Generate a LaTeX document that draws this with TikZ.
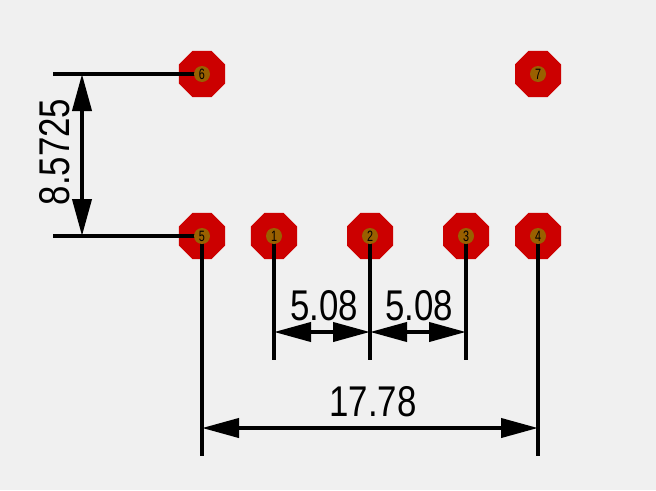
\documentclass[tikz,border=0pt]{standalone}
\usepackage{fontspec}
\usetikzlibrary{shapes.geometric,arrows.meta}
\newfontfamily\dimfont[FakeStretch=0.81]{Liberation Sans}
\newfontfamily\pinfont[FakeStretch=0.72]{Liberation Sans}
\definecolor{backgr}{HTML}{F0F0F0}
\definecolor{padred}{HTML}{CC0000}
\definecolor{holebrown}{HTML}{996000}
\tikzset{
  pad/.style={regular polygon, regular polygon sides=8, fill=padred, minimum size=49.8pt, inner sep=0pt, outer sep=0pt},
  hole/.style={circle, fill=holebrown, minimum size=16pt, inner sep=0pt, outer sep=0pt, font=\pinfont\fontsize{15}{15}\selectfont},
  extline/.style={black, line width=4pt},
  dimline/.style={black, line width=4pt, {Triangle[length=37pt,width=19pt]}-{Triangle[length=37pt,width=19pt]}},
  dimtext/.style={inner sep=0pt, font=\dimfont\fontsize{43}{43}\selectfont}
}

\begin{document}
\begin{tikzpicture}[x=1pt,y=-1pt]
  \fill[backgr] (0,0) rectangle (656,490);

  \node[pad] (p1) at (274,236) {};
  \node[pad] (p2) at (370,236) {};
  \node[pad] (p3) at (466,236) {};
  \node[pad] (p4) at (538,236) {};
  \node[pad] (p5) at (202,236) {};
  \node[pad] (p6) at (202, 74) {};
  \node[pad] (p7) at (538, 74) {};

  \coordinate (e1) at (274,360);
  \coordinate (e2) at (370,360);
  \coordinate (e3) at (466,360);
  \coordinate (e4) at (538,456);
  \coordinate (e5) at (202,456);
  \coordinate (e6) at ( 53, 74);
  \coordinate (e7) at ( 53,236);

  \coordinate (a1) at (274,332);
  \coordinate (a2) at (370,332);
  \coordinate (a3) at (466,332);
  \coordinate (a4) at (538,428);
  \coordinate (a5) at (202,428);
  \coordinate (a6) at ( 82, 74);
  \coordinate (a7) at ( 82,236);

  \draw[extline] (p1.center) -- (e1);
  \draw[extline] (p2.center) -- (e2);
  \draw[extline] (p3.center) -- (e3);
  \draw[extline] (p4.center) -- (e4);
  \draw[extline] (p5.center) -- (e5);
  \draw[extline] (p6.center) -- (e6);
  \draw[extline] (p5.center) -- (e7);

  \draw[dimline] (a1) -- (a2);
  \draw[dimline] (a2) -- (a3);
  \draw[dimline] (a5) -- (a4);
  \draw[dimline] (a6) -- (a7);

  \node[hole] (h1) at (p1) {1};
  \node[hole] (h2) at (p2) {2};
  \node[hole] (h3) at (p3) {3};
  \node[hole] (h4) at (p4) {4};
  \node[hole] (h5) at (p5) {5};
  \node[hole] (h6) at (p6) {6};
  \node[hole] (h7) at (p7) {7};

  \node[dimtext] (t1) at (324,306) {5.08};
  \node[dimtext] (t2) at (419,306) {5.08};
  \node[dimtext] (t3) at (373,402) {17.78};
  \node[dimtext,rotate=90] (t4) at (55,152) {8.5725};
\end{tikzpicture}
\end{document}
